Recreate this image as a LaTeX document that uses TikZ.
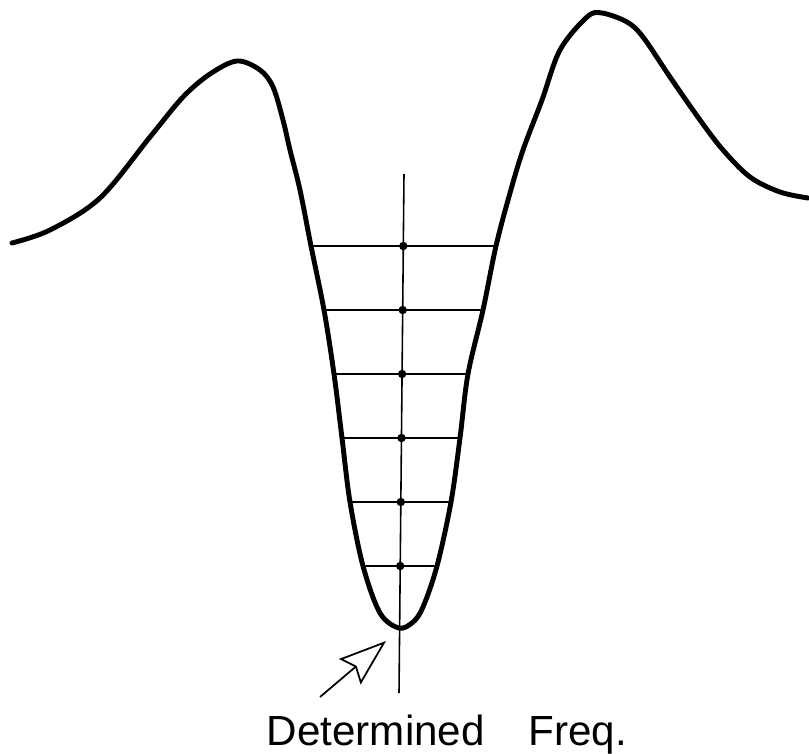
\documentclass[tikz,border=0pt]{standalone}
\usepackage{fontspec}
\setsansfont{Liberation Sans}
\usetikzlibrary{arrows.meta}

\begin{document}
\begin{tikzpicture}[x=0.02cm,y=-0.02cm,>=Stealth,
  well/.style={line width=2.8pt,line join=round,line cap=round},
  rung/.style={line width=1.1pt},
  hit/.style={circle,fill,inner sep=0pt,minimum size=4.8pt}]
  % units are px of the scan, y runs down
  \useasboundingbox (0,0) rectangle (809,754);

  % spectrum with the dip
  \draw[well] plot[smooth,tension=0.55] coordinates {
    (12,243) (50,230) (100,198) (150,137) (183,97) (210,74) (237,61)
    (260,70) (273,87) (283,120) (290,150) (300,190) (311,246)
    (324,310) (334,374) (342,438) (350,502) (363,566) (380,613)
    (399,628) (413,622) (423,607) (437,566) (451,502) (460,438)
    (468,374) (483,310) (496,246) (510,193) (523,150) (542,100)
    (560,50) (587,17) (602,13) (627,22) (643,37) (670,77) (700,120)
    (723,150) (750,177) (780,192) (808,198)};

  % centre line
  \coordinate (top) at (404,174);
  \coordinate (foot) at (399,693);
  \draw[line width=0.9pt] (top) -- (foot);

  % levels across the dip, dot where they meet the line
  \foreach \i/\y/\xl/\xr/\xd in {1/246/311/496/403.3, 2/310/324/483/402.7,
      3/374/334/468/402.1, 4/438/342/460/401.5, 5/502/350/451/400.8,
      6/566/363/437/400.2}{
    \coordinate (L\i) at (\xl,\y);
    \coordinate (R\i) at (\xr,\y);
    \draw[rung] (L\i) -- (R\i);
    \node[hit] (d\i) at (\xd,\y) {};
  }

  % pointer to the bottom
  \coordinate (tail) at (320,697);
  \coordinate (tip) at (386,641);
  \draw[-{Stealth[open,length=27pt,width=19pt,inset=4pt]},line width=1pt]
    (tail) -- (tip);

  \node[font=\sffamily\fontsize{24}{28}\selectfont,anchor=base,inner sep=0pt]
    (lbl) at (447,745) {Determined\hspace{25pt}Freq.};
\end{tikzpicture}
\end{document}
